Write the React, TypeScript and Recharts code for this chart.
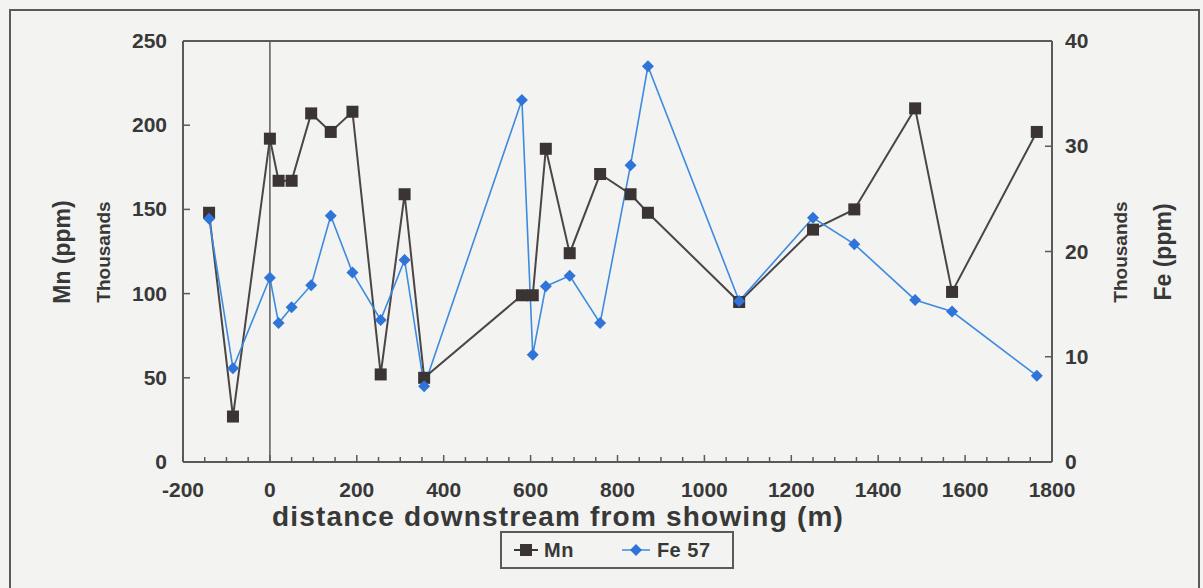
import { LineChart, Line, XAxis, YAxis, ReferenceLine, Label } from 'recharts';

// distance downstream (m), shared by both series
const DISTANCE = [-140, -85, 0, 20, 50, 95, 140, 190, 255, 310, 355, 580, 605, 635, 690, 760, 830, 870, 1080, 1250, 1345, 1485, 1570, 1765];
// Mn (ppm, thousands)
const MN = [148, 27, 192, 167, 167, 207, 196, 208, 52, 159, 50, 99, 99, 186, 124, 171, 159, 148, 95, 138, 150, 210, 101, 196];
// Fe 57 (ppm, thousands)
const FE = [23.1, 8.9, 17.5, 13.2, 14.7, 16.8, 23.4, 18.0, 13.5, 19.2, 7.2, 34.4, 10.2, 16.7, 17.7, 13.2, 28.2, 37.6, 15.3, 23.2, 20.7, 15.4, 14.3, 8.2];

const X_LABELS = [-200, 0, 200, 400, 600, 800, 1000, 1200, 1400, 1600, 1800];
const MN_TICKS = [0, 50, 100, 150, 200, 250];
const FE_TICKS = [0, 10, 20, 30, 40];

const TEXT = '#383838';
const AXIS = '#5a5a5a';
const MN_COLOR = '#3a3435';
const FE_COLOR = '#3d8be0';
const FONT = '"Liberation Sans", Arial, sans-serif';

// minor ticks every 50 m between the labelled ones
const xTicks: number[] = [];
for (let v = X_LABELS[0]; v <= X_LABELS[X_LABELS.length - 1]; v += 50) xTicks.push(v);

const data = DISTANCE.map((x, i) => ({ x, mn: MN[i], fe: FE[i] }));

const XTick = ({ x, y, payload }: any) => {
  const major = X_LABELS.includes(payload.value);
  return (
    <g>
      <line x1={x} x2={x} y1={y} y2={y - (major ? 7 : 5)} stroke={AXIS} strokeWidth={1.5} />
      {major && (
        <text x={x} y={y + 35} textAnchor="middle" fontSize={21} fontWeight="bold" fill={TEXT} fontFamily={FONT}>
          {payload.value}
        </text>
      )}
    </g>
  );
};

const LeftTick = ({ x, y, payload }: any) => (
  <g>
    {payload.value > 0 && payload.value < 250 && <line x1={x} x2={x + 7} y1={y} y2={y} stroke={AXIS} strokeWidth={1.5} />}
    <text x={x - 16} y={y + 7} textAnchor="end" fontSize={21} fontWeight="bold" fill={TEXT} fontFamily={FONT}>
      {payload.value}
    </text>
  </g>
);

const RightTick = ({ x, y, payload }: any) => (
  <g>
    {payload.value > 0 && payload.value < 40 && <line x1={x} x2={x - 7} y1={y} y2={y} stroke={AXIS} strokeWidth={1.5} />}
    <text x={x + 13} y={y + 7} textAnchor="start" fontSize={21} fontWeight="bold" fill={TEXT} fontFamily={FONT}>
      {payload.value}
    </text>
  </g>
);

const Square = ({ cx, cy, index }: any) =>
  cx == null ? null : <rect key={`s${index}`} x={cx - 6} y={cy - 6} width={12} height={12} fill={MN_COLOR} />;

const Diamond = ({ cx, cy, index }: any) =>
  cx == null ? null : (
    <polygon key={`d${index}`} points={`${cx},${cy - 6} ${cx + 6},${cy} ${cx},${cy + 6} ${cx - 6},${cy}`} fill="#2f74d8" />
  );

const vText = (cx: number, cy: number, size: number, value: string) => (
  <text
    x={cx}
    y={cy}
    transform={`rotate(-90 ${cx} ${cy})`}
    textAnchor="middle"
    dominantBaseline="central"
    fontSize={size}
    fontWeight="bold"
    fill={TEXT}
    fontFamily={FONT}
  >
    {value}
  </text>
);

const LegendBox = () => (
  <div
    style={{
      position: 'absolute',
      left: 500,
      top: 531,
      width: 234,
      height: 38,
      border: `2px solid ${AXIS}`,
      boxSizing: 'border-box',
      display: 'flex',
      alignItems: 'center',
      fontFamily: FONT,
      fontWeight: 'bold',
      fontSize: 20,
      letterSpacing: 0.5,
      color: TEXT,
    }}
  >
    <svg width={24} height={20} style={{ marginLeft: 12 }}>
      <line x1={0} x2={24} y1={10} y2={10} stroke={MN_COLOR} strokeWidth={2} />
      <rect x={6} y={4} width={12} height={12} fill={MN_COLOR} />
    </svg>
    <span style={{ marginLeft: 6 }}>Mn</span>
    <svg width={28} height={20} style={{ marginLeft: 48 }}>
      <line x1={0} x2={28} y1={10} y2={10} stroke={FE_COLOR} strokeWidth={1.5} />
      <polygon points="14,4 20,10 14,16 8,10" fill="#2f74d8" />
    </svg>
    <span style={{ marginLeft: 7 }}>Fe 57</span>
  </div>
);

export default function App() {
  return (
    <div style={{ position: 'fixed', left: 0, top: 0, width: 1203, height: 588, background: '#f3f3f1', overflow: 'hidden' }}>
      <div
        style={{
          position: 'absolute',
          left: 9,
          top: 9,
          width: 1187,
          height: 600,
          borderLeft: `2px solid ${AXIS}`,
          borderTop: `2px solid ${AXIS}`,
          borderRight: `2px solid ${AXIS}`,
        }}
      />
      <LineChart width={1203} height={588} data={data} margin={{ top: 41, right: 71, bottom: 96, left: 103 }} style={{ position: 'absolute', left: 0, top: 0 }}>
        <XAxis
          dataKey="x"
          type="number"
          domain={[-200, 1800]}
          ticks={xTicks}
          interval={0}
          tickSize={0}
          tickMargin={0}
          height={30}
          tick={<XTick />}
          axisLine={{ stroke: AXIS, strokeWidth: 2 }}
          tickLine={false}
        >
          <Label
            content={() => (
              <text x={558} y={526} textAnchor="middle" fontSize={28} letterSpacing={1.2} fontWeight="bold" fill={TEXT} fontFamily={FONT}>
                distance downstream from showing (m)
              </text>
            )}
          />
        </XAxis>
        <YAxis
          yAxisId="left"
          domain={[0, 250]}
          ticks={MN_TICKS}
          width={80}
          tickSize={0}
          tickMargin={0}
          tick={<LeftTick />}
          axisLine={{ stroke: AXIS, strokeWidth: 2 }}
          tickLine={false}
        >
          <Label content={() => <g>{vText(62, 252, 23, 'Mn (ppm)')}{vText(103, 252, 19, 'Thousands')}</g>} />
        </YAxis>
        <YAxis
          yAxisId="right"
          orientation="right"
          domain={[0, 40]}
          ticks={FE_TICKS}
          width={80}
          tickSize={0}
          tickMargin={0}
          tick={<RightTick />}
          axisLine={{ stroke: AXIS, strokeWidth: 2 }}
          tickLine={false}
        >
          <Label content={() => <g>{vText(1120, 252, 19, 'Thousands')}{vText(1163, 252, 23, 'Fe (ppm)')}</g>} />
        </YAxis>
        <ReferenceLine yAxisId="left" y={250} stroke={AXIS} strokeWidth={2} />
        <ReferenceLine yAxisId="left" x={0} stroke={AXIS} strokeWidth={1.5} />
        <Line
          yAxisId="left"
          dataKey="mn"
          stroke="#4a4546"
          strokeWidth={2}
          dot={<Square />}
          activeDot={false}
          isAnimationActive={false}
        />
        <Line
          yAxisId="right"
          dataKey="fe"
          stroke={FE_COLOR}
          strokeWidth={1.6}
          dot={<Diamond />}
          activeDot={false}
          isAnimationActive={false}
        />
      </LineChart>
      <LegendBox />
    </div>
  );
}
